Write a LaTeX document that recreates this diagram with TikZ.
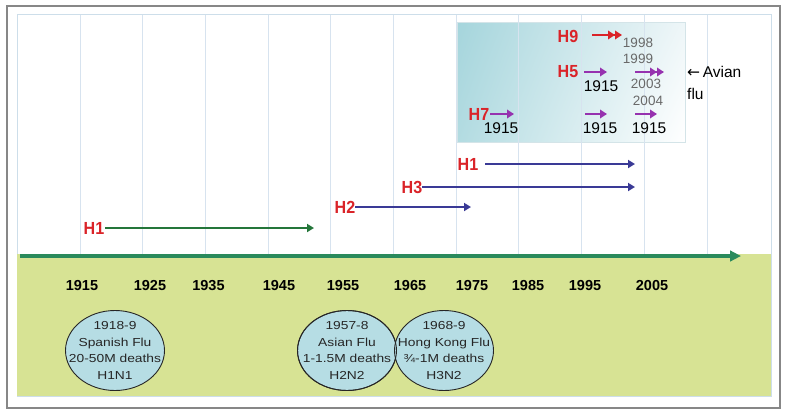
\documentclass[tikz,border=0pt]{standalone}
\usepackage{fontspec}
\setmainfont{Liberation Sans}
\newfontfamily\ellfont[FakeStretch=1.19]{Liberation Sans}
\newfontfamily\lblfont[FakeStretch=0.92]{Liberation Sans}
\newfontfamily\arrowfont{DejaVu Sans}
\usetikzlibrary{arrows.meta,shapes.geometric,shadings}
\definecolor{framegray}{RGB}{135,135,135}
\definecolor{panelline}{RGB}{205,222,234}
\definecolor{gridline}{RGB}{215,227,239}
\definecolor{panelgreen}{RGB}{215,227,148}
\definecolor{axisgreen}{RGB}{42,138,92}
\definecolor{hgreen}{RGB}{36,118,58}
\definecolor{navyblue}{RGB}{58,58,150}
\definecolor{labelred}{RGB}{218,35,40}
\definecolor{purp}{RGB}{150,50,175}
\definecolor{ellfill}{RGB}{182,221,228}
\definecolor{boxteal}{RGB}{165,213,220}
\definecolor{boxlight}{RGB}{238,246,248}
\definecolor{yeargray}{RGB}{105,105,105}
\tikzset{
  sublabel/.style={font=\lblfont\bfseries\fontsize{17.5}{17.5}\selectfont, text=labelred, inner sep=0pt},
  yearlbl/.style={font=\bfseries\fontsize{14.5}{14.5}\selectfont, inner sep=0pt},
  boxyear/.style={font=\fontsize{15.5}{15.5}\selectfont, inner sep=0pt},
  smallyear/.style={font=\fontsize{13.5}{13.5}\selectfont, text=yeargray, inner sep=0pt},
  flushape/.style={ellipse, draw=black!85, line width=0.9pt, fill=ellfill, minimum width=99pt, minimum height=80pt, inner sep=0pt},
  flutext/.style={align=center, inner sep=0pt, font=\ellfont\fontsize{11.6}{16.5}\selectfont, text=black!85},
  spanarrow/.style={line width=2.9pt, -{Triangle[length=7pt,width=8pt]}},
  shortarrow/.style={purp, line width=2.9pt, -{Triangle[length=7pt,width=8.5pt]}},
  dblarrow/.style={line width=2.9pt, -{Triangle[length=7pt,width=8.5pt]Triangle[length=7pt,width=8.5pt]}},
}
\begin{document}
\begin{tikzpicture}[x=1pt,y=-1pt]
\useasboundingbox (0,0) rectangle (787,416);
% frame and panels
\draw[framegray, line width=1.4pt] (7,6) rectangle (780,408);
\draw[panelline, line width=1pt, fill=white] (17,14) rectangle (771,396);
% avian box
\node[draw={rgb,255:red,212;green,228;blue,232}, line width=0.6pt, minimum width=228pt, minimum height=120pt, inner sep=0pt,
      upper left=boxteal, lower left=boxteal!85!white, upper right=boxlight, lower right=white] (avianbox) at (571,82) {};
% grid
\foreach \k in {0,...,10} {
  \draw[gridline, line width=1pt] ({80+62.7*\k},15) -- ({80+62.7*\k},254);
}
\fill[panelgreen] (17,254) rectangle (771,396);
% main axis
\coordinate (axisstart) at (20,256);
\coordinate (axisend) at (741,256);
\draw[axisgreen, line width=3.8pt, -{Triangle[length=11pt,width=10.5pt]}] (axisstart) -- (axisend);
% year labels
\node[yearlbl] (y1915) at (82,286) {1915};
\node[yearlbl] (y1925) at (150,286) {1925};
\node[yearlbl] (y1935) at (208.5,286) {1935};
\node[yearlbl] (y1945) at (279,286) {1945};
\node[yearlbl] (y1955) at (343,286) {1955};
\node[yearlbl] (y1965) at (410,286) {1965};
\node[yearlbl] (y1975) at (472,286) {1975};
\node[yearlbl] (y1985) at (528,286) {1985};
\node[yearlbl] (y1995) at (585,286) {1995};
\node[yearlbl] (y2005) at (652,286) {2005};
% pandemics
\node[flushape] (spanish) at (115,350.5) {};
\node[flutext] (spanishtxt) at (spanish.center) {1918-9\\Spanish Flu\\20-50M deaths\\H1N1};
\node[flushape] (asian) at (347,350.5) {};
\node[flushape] (hongkong) at (444,350.5) {};
\draw[black!85, line width=0.9pt] (asian) ellipse [x radius=49.5pt, y radius=40pt];
\node[flutext] (asiantxt) at (asian.center) {1957-8\\Asian Flu\\1-1.5M deaths\\H2N2};
\node[flutext] (hongkongtxt) at (hongkong.center) {1968-9\\Hong Kong Flu\\\char"00BE-1M deaths\\H3N2};
% subtype spans
\node[sublabel] (h1old) at (94,228) {H1};
\coordinate (h1oldend) at (314,228);
\draw[spanarrow, hgreen] (h1old.east) ++(1,0) -- (h1oldend);
\node[sublabel] (h2) at (345,207) {H2};
\coordinate (h2end) at (471,207);
\draw[spanarrow, navyblue] (h2.east) -- (h2end);
\node[sublabel] (h3) at (412,187) {H3};
\coordinate (h3end) at (635,187);
\draw[spanarrow, navyblue] (h3.east) -- (h3end);
\node[sublabel] (h1new) at (468,164) {H1};
\coordinate (h1newstart) at (485,164);
\coordinate (h1newend) at (635,164);
\draw[spanarrow, navyblue] (h1newstart) -- (h1newend);
% avian flu box contents
\node[sublabel] (h9) at (568,36) {H9};
\coordinate (h9start) at (592,35);
\coordinate (h9end) at (622,35);
\draw[dblarrow, labelred] (h9start) -- (h9end);
\node[smallyear] (y1998) at (638,43) {1998};
\node[smallyear] (y1999) at (638,59) {1999};
\node[sublabel] (h5) at (568,72) {H5};
\coordinate (h5astart) at (584,72);
\coordinate (h5aend) at (607,72);
\draw[shortarrow] (h5astart) -- (h5aend);
\coordinate (h5bstart) at (635,72);
\coordinate (h5bend) at (664,72);
\draw[dblarrow, purp] (h5bstart) -- (h5bend);
\node[boxyear] (h5year) at (601,86) {1915};
\node[smallyear] (y2003) at (646,84) {2003};
\node[smallyear] (y2004) at (648,101) {2004};
\node[sublabel] (h7) at (479,114) {H7};
\coordinate (h7end) at (514,114);
\draw[shortarrow] (h7.east) ++(1,0) -- (h7end);
\node[boxyear] (h7year) at (501,128) {1915};
\coordinate (r3astart) at (585,114);
\coordinate (r3aend) at (607,114);
\draw[shortarrow] (r3astart) -- (r3aend);
\node[boxyear] (r3ayear) at (600,128) {1915};
\coordinate (r3bstart) at (635,114);
\coordinate (r3bend) at (657,114);
\draw[shortarrow] (r3bstart) -- (r3bend);
\node[boxyear] (r3byear) at (649,128) {1915};
\node[boxyear, anchor=west] (avian) at (687,72) {{\arrowfont ←}\,Avian};
\node[boxyear, anchor=west] (flu) at (687,94) {flu};
\end{tikzpicture}
\end{document}
